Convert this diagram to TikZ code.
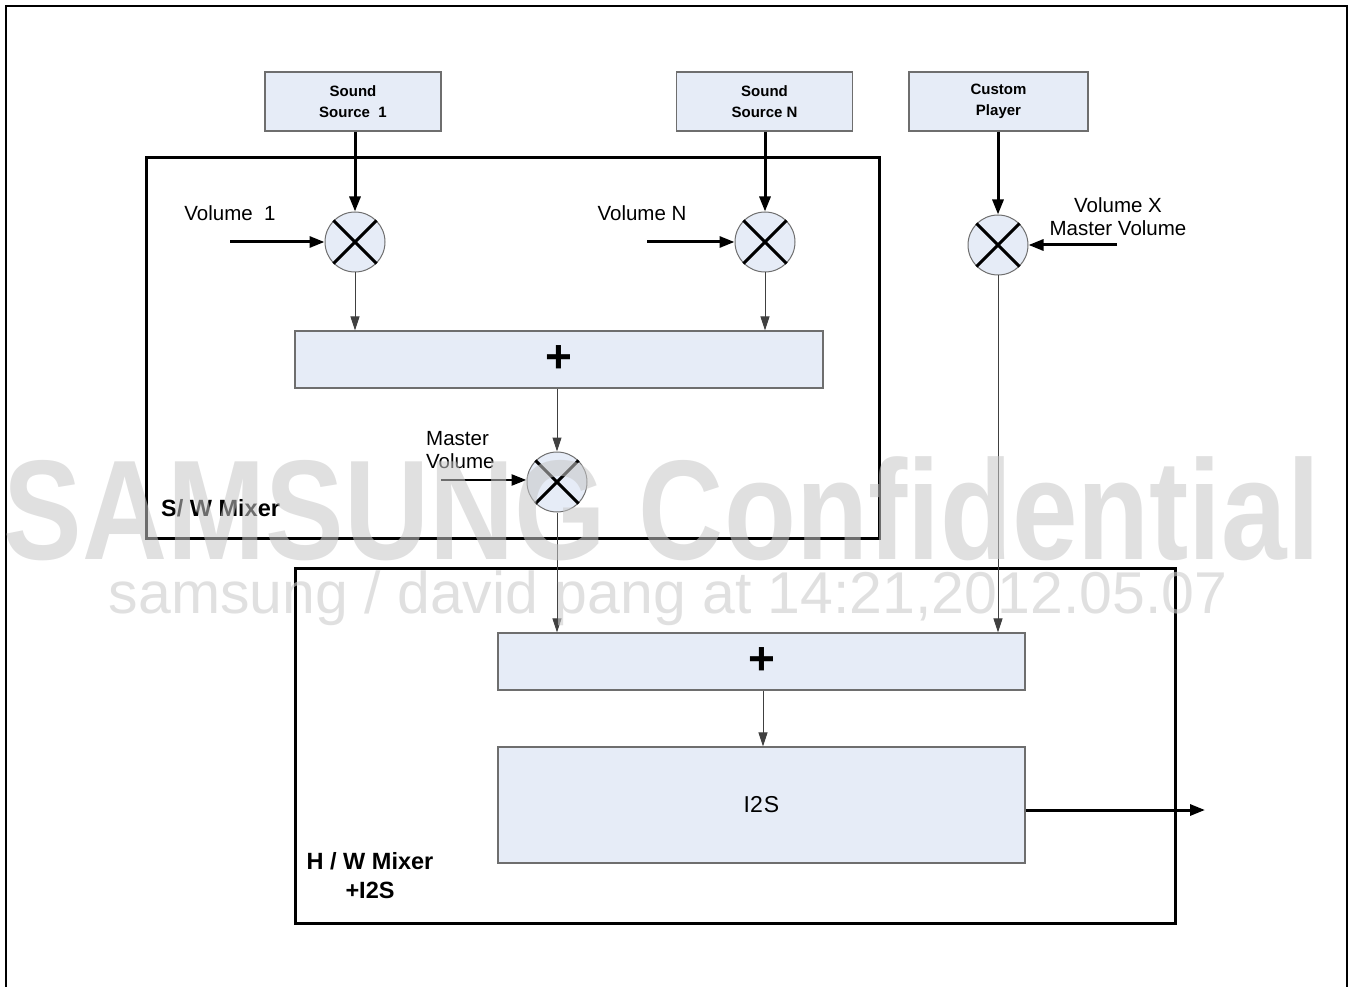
\documentclass[tikz,border=0pt]{standalone}
\usepackage{fontspec}
\setmainfont{Liberation Sans}
\usetikzlibrary{arrows.meta}
\definecolor{boxfill}{RGB}{230,236,247}
\definecolor{boxline}{RGB}{110,110,110}
\begin{document}
\begin{tikzpicture}[x=1pt,y=-1pt,
  srcbox/.style={draw=boxline,line width=1.2pt,fill=boxfill,minimum width=176pt,minimum height=59pt,align=center,font=\fontsize{15}{21}\selectfont\bfseries,inner sep=0pt},
  wbox/.style={draw=boxline,line width=1.2pt,fill=boxfill,inner sep=0pt},
  mult/.style={circle,draw=boxline,line width=1pt,fill=boxfill,minimum size=60pt,inner sep=0pt},
  frm/.style={draw=black,line width=3pt},
  thk/.style={line width=3pt,-{Triangle[length=15pt,width=11pt]}},
  thn/.style={line width=1pt,draw=black!75,-{Triangle[length=14pt,width=9pt]}},
  lbl/.style={font=\fontsize{20.5}{23}\selectfont,align=center,inner sep=0pt},
  xl/.style={line width=3pt}
]
\useasboundingbox (0,0) rectangle (1353,987);
% outer frame
\draw[line width=2.5pt] (6,987) -- (6,6) -- (1347,6) -- (1347,987);
% frames
\draw[frm] (146,158) rectangle (879,538);
\draw[frm] (295,568) rectangle (1175,923);
% sources
\node[srcbox] (s1) at (353,101.5) {Sound\\Source\ \ 1};
\node[srcbox] (sn) at (764.5,101.5) {Sound\\Source N};
\node[srcbox,minimum width=179pt] (cp) at (998.5,101.5) {Custom\\Player};
% multipliers
\node[mult] (m1) at (355,242) {};
\node[mult] (mn) at (765,242) {};
\node[mult] (mx) at (998,245) {};
\node[mult] (mm) at (557,482) {};
\foreach \m in {m1,mn,mx,mm}{
  \draw[xl] (\m.45) -- (\m.225);
  \draw[xl] (\m.135) -- (\m.315);
}
% plus boxes
\node[wbox,minimum width=528pt,minimum height=57pt] (p1) at (559,359.5) {\fontsize{46}{46}\selectfont\bfseries +};
\node[wbox,minimum width=527pt,minimum height=57pt] (p2) at (761.5,661.5) {\fontsize{46}{46}\selectfont\bfseries +};
\node[wbox,minimum width=527pt,minimum height=116pt] (i2s) at (761.5,805) {\fontsize{23}{26}\selectfont I2\kern1pt S};
% labels
\node[lbl] (v1) at (230,213) {Volume\ \ 1};
\node[lbl] (vn) at (642,213) {Volume N};
\node[lbl] (vx) at (1118,217) {Volume X\\Master Volume};
\node[lbl,align=left,anchor=west] (mv) at (426,450) {Master\\Volume};
\node[font=\fontsize{23.5}{26}\selectfont\bfseries,anchor=west,inner sep=0pt] (swl) at (161,508) {S/ W Mixer};
\node[font=\fontsize{23.5}{29}\selectfont\bfseries,align=center,inner sep=0pt] (hwl) at (370,876) {H / W Mixer\\+I2S};
% coordinates for free ends
\coordinate (v1s) at (230,242);
\coordinate (vns) at (647,242);
\coordinate (vxs) at (1117,245);
\coordinate (mvs) at (441,480);
\coordinate (out) at (1205,810);
% connectors
\draw[thk] (s1.south -| m1) -- (m1.north);
\draw[thk] (sn.south -| mn) -- (mn.north);
\draw[thk] (cp.south -| mx) -- (mx.north);
\draw[thk] (v1s) -- (m1.west);
\draw[thk] (vns) -- (mn.west);
\draw[thk] (vxs) -- (mx.east);
\draw[thk,line width=2.5pt] (mvs) -- (mvs -| mm.west);
\draw[thn] (m1.south) -- (m1.south |- p1.north);
\draw[thn] (mn.south) -- (mn.south |- p1.north);
\draw[thn] (p1.south -| mm) -- (mm.north);
\draw[thn] (mm.south) -- (mm.south |- p2.north);
\draw[thn] (mx.south) -- (mx.south |- p2.north);
\draw[thn] (p2.south -| 763,0) -- (763,0 |- i2s.north);
\draw[thk] (i2s.east |- out) -- (out);
% watermark
\node[opacity=0.55,text=black!22,font=\fontsize{142}{142}\selectfont\bfseries,xscale=0.83,inner sep=0pt] (wm1) at (662,509) {SAMSUNG Confidential};
\node[opacity=0.6,text=black!20,font=\fontsize{59}{59}\selectfont,inner sep=0pt] (wm2) at (668,598) {samsung / david pang at 14:21,2012.05.07};
\end{tikzpicture}
\end{document}
